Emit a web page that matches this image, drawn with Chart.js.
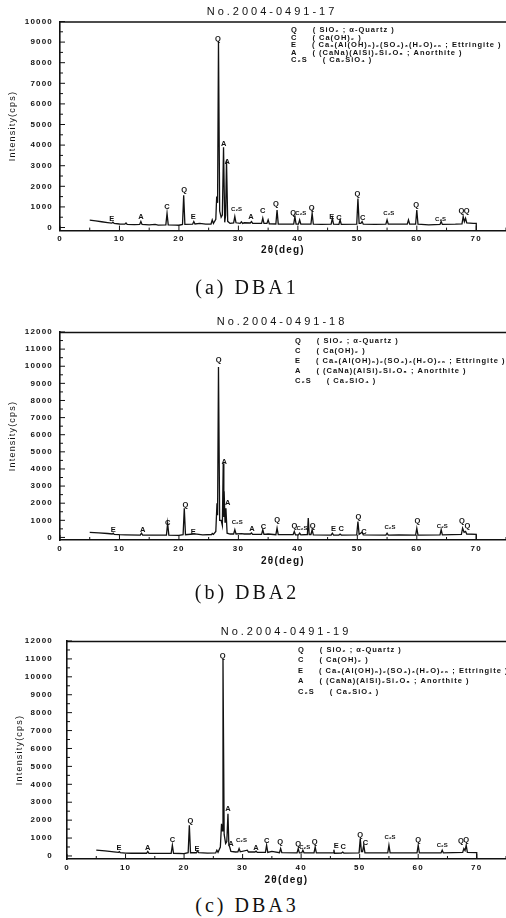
<!DOCTYPE html>
<html lang="ko">
<head>
<meta charset="UTF-8">
<title>XRD patterns DBA1 - DBA3</title>
<style>
  body { margin: 0; background: #fff; width: 506px; height: 918px; position: relative; overflow: hidden; }
  .panel { position: absolute; left: 0; width: 506px; }
  .caption { position: absolute; left: 0; width: 494px; text-align: center; line-height: 20px;
             font-family: "Liberation Serif", "DejaVu Serif", serif; font-size: 20px; letter-spacing: 3px; color: #111; }
</style>
</head>
<body>
<div class="panel" style="top:0;height:262px"><canvas id="dba1"></canvas></div>
<div class="panel" style="top:290px;height:280px"><canvas id="dba2"></canvas></div>
<div class="panel" style="top:600px;height:290px"><canvas id="dba3"></canvas></div>
<div class="caption" style="top:277px">(a) DBA1</div>
<div class="caption" style="top:582px">(b) DBA2</div>
<div class="caption" style="top:895px">(c) DBA3</div>

<script src="https://cdn.jsdelivr.net/npm/chart.js"></script>
<script>
// ---------- data ----------
const xTickLabels = [0, 10, 20, 30, 40, 50, 60, 70];
const yTicksDBA1 = [0, 1000, 2000, 3000, 4000, 5000, 6000, 7000, 8000, 9000, 10000];
const yTicksDBA2 = [0, 1000, 2000, 3000, 4000, 5000, 6000, 7000, 8000, 9000, 10000, 11000, 12000];
const yTicksDBA3 = [0, 1000, 2000, 3000, 4000, 5000, 6000, 7000, 8000, 9000, 10000, 11000, 12000];

const titles = ['No.2004-0491-17', 'No.2004-0491-18', 'No.2004-0491-19'];
const legendCodes = ['Q', 'C', 'E', 'A', 'C₂S'];
const legendNames = [
  '( SiO₂ ; α-Quartz )',
  '( Ca(OH)₂ )',
  '( Ca₆(Al(OH)₆)₂(SO₄)₃(H₂O)₂₆ ; Ettringite )',
  '( (CaNa)(AlSi)₂Si₂O₈ ; Anorthite )',
  '( Ca₂SiO₄ )'
];

// DBA1 : 2theta (deg) / intensity (cps)
const dba1Angle = [5.0, 6.0, 7.0, 8.0, 8.7, 8.9, 9.1, 10.0, 10.9, 11.1, 11.3, 12.5, 13.4, 13.6, 13.8, 15.0, 16.0, 16.5, 17.8, 18.0, 18.2,
  19.5, 20.0, 20.6, 20.8, 21.0, 22.3, 22.5, 22.7, 23.5, 24.5, 25.4, 25.6, 25.8, 26.2, 26.35, 26.5, 26.65, 26.85, 27.1, 27.3, 27.5,
  27.7, 27.85, 28.0, 28.2, 28.6, 29.2, 29.4, 29.6, 30.3, 30.5, 30.7, 31.0, 32.0, 32.2, 32.4, 33.9, 34.1, 34.3, 34.8, 35.0, 35.2,
  36.3, 36.5, 36.7, 38.0, 39.3, 39.5, 39.7, 40.1, 40.3, 40.5, 42.2, 42.4, 42.6, 44.0, 45.6, 45.8, 46.0, 46.9, 47.1, 47.3, 49.9,
  50.1, 50.3, 50.6, 50.8, 51.0, 53.0, 54.8, 55.0, 55.2, 56.5, 58.4, 58.6, 58.8, 59.8, 60.0, 60.2, 62.0, 63.9, 64.1, 64.3, 66.5,
  67.6, 67.8, 68.0, 68.2, 68.4, 69.5, 70.0, 70.0];
const dba1Count = [360, 320, 280, 240, 210, 260, 200, 170, 160, 220, 150, 140, 150, 290, 150, 130, 150, 120, 130, 690, 130,
  120, 110, 150, 1570, 150, 160, 290, 170, 200, 160, 170, 370, 200, 400, 1500, 1200, 9050, 800, 500, 600, 3900,
  250, 600, 3250, 300, 200, 220, 530, 230, 200, 280, 200, 230, 220, 290, 200, 200, 450, 200, 200, 370, 180,
  170, 850, 170, 160, 160, 530, 160, 160, 370, 160, 170, 690, 160, 150, 160, 450, 160, 150, 370, 150, 160,
  1410, 200, 200, 290, 160, 150, 160, 370, 160, 160, 160, 370, 160, 160, 850, 160, 130, 150, 290, 150, 160,
  180, 530, 280, 450, 220, 200, 200, -150];

// DBA2
const dba2Angle = [5.0, 6.5, 8.0, 8.8, 8.95, 9.1, 10.0, 11.0, 13.5, 13.7, 13.9, 15.0, 17.9, 18.1, 18.3, 20.0, 20.7, 20.9, 21.1,
  22.4, 23.0, 24.0, 25.5, 25.6, 25.8, 26.2, 26.4, 26.5, 26.65, 26.85, 27.1, 27.3, 27.45, 27.55, 27.6, 27.75, 27.9, 28.1, 28.6,
  29.2, 29.4, 29.6, 30.5, 31.0, 32.0, 32.2, 32.4, 33.9, 34.1, 34.3, 35.0, 36.3, 36.5, 36.7, 39.2, 39.4, 39.6, 40.1, 40.3, 40.5,
  41.6, 41.75, 41.9, 42.2, 42.4, 42.6, 45.6, 45.8, 46.0, 46.9, 47.1, 47.3, 49.9, 50.1, 50.3, 50.8, 51.0, 54.8, 55.0, 55.2, 57.0,
  59.8, 60.0, 60.2, 63.9, 64.1, 64.3, 67.5, 67.7, 67.95, 68.2, 68.4, 70.0, 70.0];
const dba2Count = [300, 270, 230, 200, 250, 180, 160, 150, 140, 250, 140, 130, 140, 830, 140, 120, 160, 1700, 160,
  200, 190, 150, 170, 230, 180, 350, 2000, 1300, 9960, 1000, 1000, 700, 4330, 1200, 2700, 900, 1700, 250, 200,
  200, 450, 200, 220, 200, 200, 260, 180, 180, 450, 180, 200, 160, 540, 160, 160, 350, 150, 150, 250, 150,
  170, 1130, 170, 170, 450, 150, 140, 250, 140, 140, 200, 140, 150, 930, 180, 300, 150, 140, 250, 140, 150,
  140, 540, 140, 150, 450, 150, 180, 540, 300, 350, 200, 180, -150];

// DBA3
const dba3Angle = [5.0, 6.5, 8.0, 8.8, 8.95, 9.1, 10.0, 11.0, 13.6, 13.8, 14.0, 16.0, 17.8, 18.0, 18.2, 20.0, 20.7, 20.9, 21.1,
  22.1, 22.3, 22.5, 24.0, 25.4, 25.6, 25.8, 26.2, 26.4, 26.5, 26.65, 26.85, 27.1, 27.3, 27.5, 27.65, 27.8, 28.0, 28.8, 29.2,
  29.4, 29.6, 30.8, 31.0, 32.1, 32.3, 32.5, 33.9, 34.1, 34.3, 35.0, 36.3, 36.5, 36.7, 39.3, 39.5, 39.7, 40.1, 40.3, 40.5, 42.2,
  42.4, 42.6, 45.5, 45.6, 45.7, 46.9, 47.1, 47.3, 49.9, 50.1, 50.3, 50.5, 50.7, 50.9, 54.8, 55.0, 55.2, 57.0, 59.8, 60.0, 60.2,
  63.9, 64.1, 64.3, 67.6, 67.8, 68.0, 68.2, 68.4, 70.0, 70.0];
const dba3Count = [320, 280, 230, 200, 240, 180, 160, 150, 150, 250, 150, 140, 150, 600, 150, 130, 180, 1710, 180,
  180, 280, 180, 160, 170, 320, 200, 500, 1800, 1400, 11000, 1200, 700, 800, 2360, 600, 500, 250, 220, 230,
  410, 230, 320, 220, 220, 270, 200, 200, 600, 200, 250, 180, 410, 180, 170, 410, 170, 170, 320, 170, 170,
  500, 170, 170, 350, 150, 160, 220, 160, 170, 970, 250, 250, 600, 180, 170, 600, 170, 170, 170, 600, 170,
  170, 320, 170, 200, 410, 300, 600, 200, 190, -170];

// peak labels: phase / 2theta / intensity where the label sits
const dba1PeakText  = ['E', 'A', 'C', 'Q', 'E', 'Q', 'A', 'A', 'C₂S', 'A', 'C', 'Q', 'Q', 'C₂S', 'Q', 'E', 'C', 'Q', 'C', 'C₂S', 'Q', 'C₂S', 'Q', 'Q'];
const dba1PeakAngle = [8.7, 13.6, 18.0, 20.9, 22.4, 26.55, 27.55, 28.1, 29.7, 32.1, 34.1, 36.3, 39.2, 40.5, 42.3, 45.7, 46.9, 50.0, 50.9, 55.3, 59.9, 64.0, 67.5, 68.4];
const dba1PeakCount = [420, 500, 980, 1810, 500, 9150, 4050, 3170, 880, 500, 820, 1140, 720, 690, 930, 530, 450, 1650, 450, 690, 1090, 420, 820, 820];

const dba2PeakText  = ['E', 'A', 'C', 'Q', 'E', 'Q', 'A', 'A', 'C₂S', 'A', 'C', 'Q', 'Q', 'C₂S', 'Q', 'E', 'C', 'Q', 'C', 'C₂S', 'Q', 'C₂S', 'Q', 'Q'];
const dba2PeakAngle = [8.95, 13.9, 18.1, 21.1, 22.4, 26.7, 27.6, 28.2, 29.8, 32.3, 34.2, 36.5, 39.4, 40.7, 42.5, 46.0, 47.3, 50.2, 51.1, 55.5, 60.1, 64.3, 67.6, 68.5];
const dba2PeakCount = [410, 450, 830, 1900, 310, 10350, 4430, 2000, 890, 490, 640, 1030, 700, 540, 700, 490, 490, 1170, 310, 580, 990, 640, 990, 700];

const dba3PeakText  = ['E', 'A', 'C', 'Q', 'E', 'Q', 'A', 'A', 'C₂S', 'A', 'C', 'Q', 'Q', 'C₂S', 'Q', 'E', 'C', 'Q', 'C', 'C₂S', 'Q', 'C₂S', 'Q', 'Q'];
const dba3PeakAngle = [8.9, 13.8, 18.0, 21.1, 22.2, 26.6, 27.5, 28.0, 29.8, 32.3, 34.1, 36.4, 39.5, 40.6, 42.3, 46.0, 47.2, 50.1, 51.0, 55.2, 60.0, 64.1, 67.3, 68.2];
const dba3PeakCount = [470, 470, 870, 1950, 370, 11160, 2600, 690, 870, 470, 840, 780, 690, 500, 780, 560, 500, 1150, 740, 1020, 910, 600, 840, 910];

// ---------- drawing ----------
const SANS = '"Liberation Sans", Arial, sans-serif';
const INK = '#111';

function decorPlugin(p) {
  return {
    id: 'xrdDecor',
    beforeDraw(chart) {
      chart.ctx.letterSpacing = '1.2px';
    },
    afterDatasetsDraw(chart) {
      const { ctx, chartArea: a, scales: { x, y } } = chart;
      ctx.save();
      ctx.strokeStyle = INK;
      ctx.fillStyle = INK;

      // top frame line, running off the right edge
      ctx.lineWidth = 1.3;
      ctx.beginPath();
      ctx.moveTo(a.left, a.top + 0.5);
      ctx.lineTo(chart.width, a.top + 0.5);
      ctx.stroke();

      // inward tick marks
      ctx.lineWidth = 1;
      ctx.beginPath();
      p.yTicks.forEach(v => {
        const py = y.getPixelForValue(v);
        ctx.moveTo(a.left, py); ctx.lineTo(a.left + 5, py);
        if (v + 500 < y.max) {
          const pm = y.getPixelForValue(v + 500);
          ctx.moveTo(a.left, pm); ctx.lineTo(a.left + 3, pm);
        }
      });
      xTickLabels.forEach(v => {
        const px = x.getPixelForValue(v);
        ctx.moveTo(px, a.bottom); ctx.lineTo(px, a.bottom - 5);
        const pm = x.getPixelForValue(v + 5);
        ctx.moveTo(pm, a.bottom); ctx.lineTo(pm, a.bottom - 3);
      });
      ctx.stroke();

      // peak labels
      ctx.textAlign = 'center';
      ctx.textBaseline = 'middle';
      ctx.letterSpacing = '0px';
      p.peakText.forEach((t, i) => {
        ctx.font = (t.length > 1 ? 'bold 6px ' : 'bold 7.5px ') + SANS;
        ctx.fillText(t, x.getPixelForValue(p.peakAngle[i]), y.getPixelForValue(p.peakCount[i]));
      });

      // phase key
      ctx.textAlign = 'left';
      ctx.letterSpacing = '1px';
      ctx.font = 'bold 7.5px ' + SANS;
      legendCodes.forEach((code, i) => {
        const ly = a.top + p.keyTop + i * p.keyStep;
        ctx.fillText(code, p.keyX, ly);
        const w = ctx.measureText(code).width;
        ctx.fillText(legendNames[i], p.keyX + Math.max(19, w + 15), ly);
      });

      // title
      ctx.letterSpacing = '3px';
      ctx.textAlign = 'center';
      ctx.font = '11px ' + SANS;
      ctx.fillText(p.title, p.titleX, p.titleY);
      ctx.restore();
    }
  };
}

function drawPanel(id, p) {
  new Chart(document.getElementById(id), {
    type: 'scatter',
    data: {
      datasets: [{
        data: p.angle.map((a, i) => ({ x: a, y: p.count[i] })),
        showLine: true,
        pointRadius: 0,
        borderColor: INK,
        borderWidth: 1.3,
        tension: 0
      }]
    },
    options: {
      responsive: true,
      maintainAspectRatio: false,
      animation: false,
      events: [],
      layout: { padding: { top: p.top, right: 0, bottom: 0, left: 0 } },
      plugins: { legend: { display: false }, tooltip: { enabled: false }, title: { display: false } },
      scales: {
        x: {
          type: 'linear', min: 0, max: 75,
          afterBuildTicks: s => { s.ticks = xTickLabels.map(v => ({ value: v })); },
          afterFit: s => { s.height = p.xAxisH; },
          grid: { display: false, drawTicks: false },
          border: { display: true, color: INK, width: 1.6 },
          ticks: { color: INK, padding: p.xLabelPad, maxRotation: 0, autoSkip: false,
                   font: { family: SANS, size: 8, weight: 'bold' }, callback: v => String(v) },
          title: { display: true, text: '2θ(deg)', color: INK, padding: { top: 0, bottom: p.xTitlePad },
                   font: { family: SANS, size: 10, weight: 'bold' } }
        },
        y: {
          type: 'linear', min: p.yMin, max: p.yMax,
          afterBuildTicks: s => { s.ticks = p.yTicks.map(v => ({ value: v })); },
          afterFit: s => { s.width = p.left; },
          grid: { display: false, drawTicks: false },
          border: { display: true, color: INK, width: 1.6 },
          ticks: { color: INK, padding: p.left - 53, autoSkip: false,
                   font: { family: SANS, size: 8, weight: 'bold' }, callback: v => String(v) },
          title: { display: true, text: 'Intensity(cps)', color: INK, padding: { top: p.yTitleX - 5.4, bottom: 0 },
                   font: { family: SANS, size: 9 } }
        }
      }
    },
    plugins: [decorPlugin(p)]
  });
}

drawPanel('dba1', {
  angle: dba1Angle, count: dba1Count, peakText: dba1PeakText, peakAngle: dba1PeakAngle, peakCount: dba1PeakCount,
  yTicks: yTicksDBA1, yMin: -150, yMax: 10000, title: titles[0],
  top: 21.5, left: 60, xAxisH: 31.4, xLabelPad: 3, xTitlePad: 6, yTitleX: 13,
  titleX: 272, titleY: 12, keyX: 291, keyTop: 8.5, keyStep: 7.6
});
drawPanel('dba2', {
  angle: dba2Angle, count: dba2Count, peakText: dba2PeakText, peakAngle: dba2PeakAngle, peakCount: dba2PeakCount,
  yTicks: yTicksDBA2, yMin: -150, yMax: 12000, title: titles[1],
  top: 42, left: 60, xAxisH: 30, xLabelPad: 4, xTitlePad: 3, yTitleX: 13,
  titleX: 282, titleY: 32, keyX: 295, keyTop: 8.5, keyStep: 10
});
drawPanel('dba3', {
  angle: dba3Angle, count: dba3Count, peakText: dba3PeakText, peakAngle: dba3PeakAngle, peakCount: dba3PeakCount,
  yTicks: yTicksDBA3, yMin: -170, yMax: 12000, title: titles[2],
  top: 41, left: 67, xAxisH: 31, xLabelPad: 3.5, xTitlePad: 4, yTitleX: 20,
  titleX: 286, titleY: 32, keyX: 298, keyTop: 9, keyStep: 10.4
});
</script>
</body>
</html>
